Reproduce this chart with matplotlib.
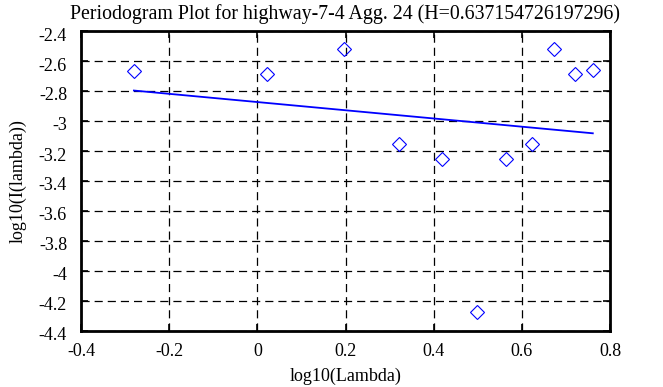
import matplotlib
matplotlib.use("Agg")
import matplotlib.pyplot as plt
from matplotlib.transforms import ScaledTranslation

# Data
log_lambda = [-0.280, 0.021, 0.197, 0.322, 0.419, 0.498, 0.565, 0.623, 0.674, 0.720, 0.761]
log_I = [-2.665, -2.685, -2.518, -3.151, -3.253, -4.271, -3.253, -3.151, -2.518, -2.685, -2.660]
fit_x = [-0.280, 0.761]
fit_y = [-2.797, -3.082]

x_ticks = [-0.4, -0.2, 0, 0.2, 0.4, 0.6, 0.8]
x_tick_labels = ["-0.4", "-0.2", "0", "0.2", "0.4", "0.6", "0.8"]
y_ticks = [-4.4, -4.2, -4.0, -3.8, -3.6, -3.4, -3.2, -3.0, -2.8, -2.6, -2.4]
y_tick_labels = ["-4.4", "-4.2", "-4", "-3.8", "-3.6", "-3.4", "-3.2", "-3", "-2.8", "-2.6", "-2.4"]

title = "Periodogram Plot for highway-7-4 Agg. 24 (H=0.637154726197296)"

plt.rcParams['font.family'] = ['Liberation Serif', 'DejaVu Serif']

fig = plt.figure(figsize=(6.63, 3.87), dpi=100)
ax = fig.add_axes([81/663, 1 - 331/387, (610-81)/663, (331-31)/387])

ax.plot(log_lambda, log_I, linestyle='none', marker='D', markersize=7.0,
        markerfacecolor='none', markeredgecolor='#0000ff', markeredgewidth=0.8)
ax.plot(fit_x, fit_y, color='#0000ff', linewidth=1.3)

ax.set_xlim(-0.4, 0.8)
ax.set_ylim(-4.4, -2.4)
ax.set_xticks(x_ticks)
ax.set_xticklabels(x_tick_labels)
ax.set_yticks(y_ticks)
ax.set_yticklabels(y_tick_labels)

ax.grid(True, color='black', linestyle=(0, (6.5, 4)), linewidth=0.9)
ax.tick_params(direction='in', length=5, width=1.2, top=True, right=True,
               labelsize=13, colors='black')
ax.tick_params(axis='y', pad=10)
ax.tick_params(axis='x', pad=9)
for s in ax.spines.values():
    s.set_linewidth(2.0)
    s.set_color('black')

# small downward shift of y tick labels, as in the reference
off = ScaledTranslation(0, -3/100, fig.dpi_scale_trans)
for lab in ax.get_yticklabels():
    lab.set_transform(lab.get_transform() + off)

ax.set_xlabel("log10(Lambda)", fontsize=13, labelpad=5)
ax.set_ylabel("log10(I(lambda))", fontsize=13, labelpad=9)
ax.set_title(title, fontsize=14.3, pad=9)

fig.savefig("out.png", dpi=100)
